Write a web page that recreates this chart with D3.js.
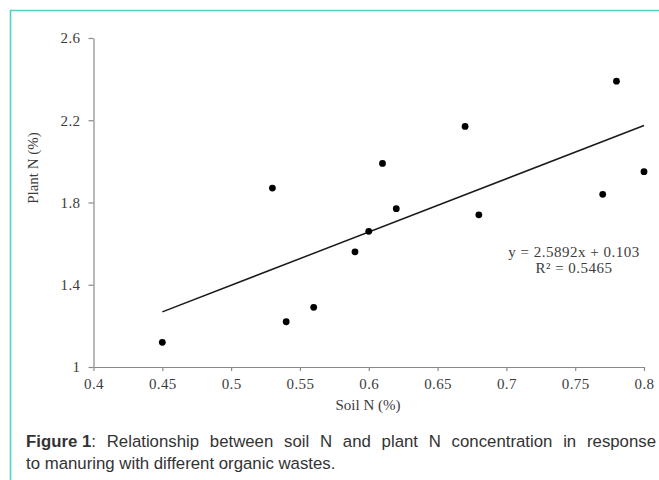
<!DOCTYPE html>
<html>
<head>
<meta charset="utf-8">
<script src="https://cdn.jsdelivr.net/npm/d3@7"></script>
<style>
  body { margin: 0; background: #fff; }
  svg { display: block; }
</style>
</head>
<body>
<script>
    const width = 659;
    const height = 480;

    // データ
    const soilN  = [0.45, 0.53, 0.54, 0.56, 0.59, 0.60, 0.61, 0.62, 0.67, 0.68, 0.77, 0.78, 0.80];
    const plantN = [1.12, 1.87, 1.22, 1.29, 1.56, 1.66, 1.99, 1.77, 2.17, 1.74, 1.84, 2.39, 1.95];
    const xTicks = [0.4, 0.45, 0.5, 0.55, 0.6, 0.65, 0.7, 0.75, 0.8];
    const yTicks = [1, 1.4, 1.8, 2.2, 2.6];
    const slope = 2.5892, intercept = 0.103;
    const eqLines = ["y = 2.5892x + 0.103", "R² = 0.5465"];
    const captionBold = "Figure 1";
    const captionRest = [": Relationship between soil N and plant N concentration in response",
                         "to manuring with different organic wastes."];

    const svg = d3.select("body").append("svg")
      .attr("width", width)
      .attr("height", height);

    // 枠（上と左だけ見える）
    svg.append("path")
      .attr("d", "M10.5,480 V10.5 H659")
      .attr("fill", "none")
      .attr("stroke", "#4fd3c3")
      .attr("stroke-width", 1.6);

    const x = d3.scaleLinear().domain([0.4, 0.8]).range([93.5, 644]);
    const y = d3.scaleLinear().domain([1, 2.6]).range([367, 38]);

    const serif = "'Liberation Serif', 'Times New Roman', serif";
    const txtCol = "#3c3c3c";
    const axCol = "#8a8a8a";

    // x軸
    const gx = svg.append("g")
      .attr("transform", `translate(0,${y(1)})`)
      .call(d3.axisBottom(x).tickValues(xTicks).tickFormat(d3.format("")).tickSize(4).tickSizeOuter(0).tickPadding(7));

    // y軸
    const gy = svg.append("g")
      .attr("transform", `translate(${x(0.4)},0)`)
      .call(d3.axisLeft(y).tickValues(yTicks).tickFormat(d3.format("")).tickSize(5).tickSizeOuter(0).tickPadding(8));

    [gx, gy].forEach(g => {
      g.selectAll("path, line").attr("stroke", axCol).attr("stroke-width", 1.2);
      g.selectAll("text")
        .attr("fill", txtCol)
        .style("font-family", serif)
        .style("font-size", "15px")
        .style("letter-spacing", "0.4px");
    });

    // 軸タイトル
    svg.append("text")
      .attr("x", 368)
      .attr("y", 410)
      .attr("text-anchor", "middle")
      .attr("fill", txtCol)
      .style("font-family", serif)
      .style("font-size", "15px")
      .text("Soil N (%)");

    svg.append("text")
      .attr("transform", "translate(38,168) rotate(-90)")
      .attr("text-anchor", "middle")
      .attr("fill", txtCol)
      .style("font-family", serif)
      .style("font-size", "15px")
      .text("Plant N (%)");

    // 回帰直線
    const xr = d3.extent(soilN);
    svg.append("line")
      .attr("x1", x(xr[0]))
      .attr("y1", y(slope * xr[0] + intercept))
      .attr("x2", x(xr[1]))
      .attr("y2", y(slope * xr[1] + intercept))
      .attr("stroke", "#1a1a1a")
      .attr("stroke-width", 1.5);

    // 点
    svg.append("g")
      .selectAll("circle")
      .data(soilN.map((d, i) => [d, plantN[i]]))
      .join("circle")
      .attr("cx", d => x(d[0]))
      .attr("cy", d => y(d[1]))
      .attr("r", 3.4)
      .attr("fill", "#000");

    // 式
    svg.append("g")
      .selectAll("text")
      .data(eqLines)
      .join("text")
      .attr("x", 574)
      .attr("y", (d, i) => 257 + i * 16)
      .attr("text-anchor", "middle")
      .attr("fill", txtCol)
      .style("font-family", serif)
      .style("font-size", "15px")
      .style("letter-spacing", "0.5px")
      .text(d => d);

    // キャプション（1行目は両端揃え）
    const capFont = "'Liberation Sans', Arial, sans-serif";
    const capSize = "16.8px";
    const line1 = svg.append("text")
      .attr("x", 26).attr("y", 447)
      .attr("fill", "#333")
      .style("font-family", capFont)
      .style("font-size", capSize);
    line1.append("tspan").style("font-weight", "bold").text(captionBold);
    const rest1 = line1.append("tspan").text(captionRest[0]);

    const w1 = line1.node().getComputedTextLength();
    const nSpaces = captionRest[0].split(" ").length - 1;
    const extra = (656 - 26 - w1) / nSpaces;
    if (extra > 0) rest1.style("word-spacing", extra + "px");

    svg.append("text")
      .attr("x", 26).attr("y", 469)
      .attr("fill", "#333")
      .style("font-family", capFont)
      .style("font-size", capSize)
      .text(captionRest[1]);
</script>
</body>
</html>
